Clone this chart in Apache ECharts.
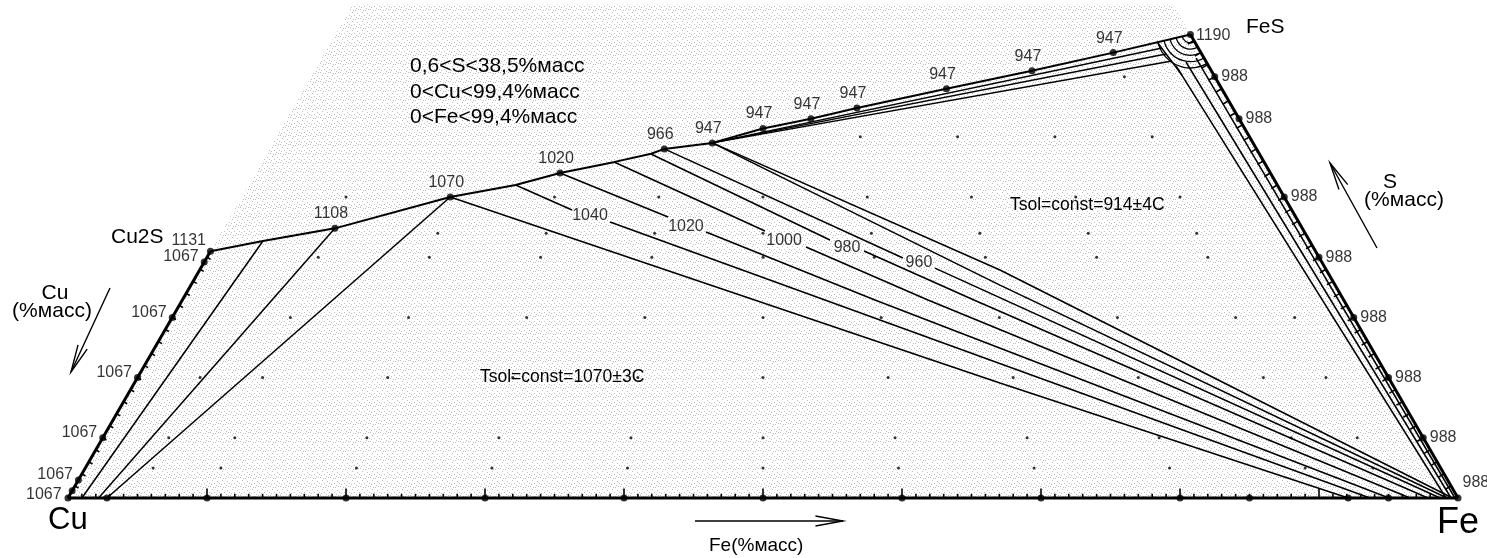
<!DOCTYPE html>
<html><head><meta charset="utf-8">
<script src="https://cdn.jsdelivr.net/npm/echarts@6/dist/echarts.min.js"></script>
<style>html,body{margin:0;padding:0;background:#fff}#c{width:1487px;height:558px}</style>
</head><body><div id="c"></div>
<script>
// ---------- DATA (mass %, points given as [Fe, S]) ----------
const cornerCu = [0, 0];
const cornerFe = [100, 0];
const cornerCu2S = [0, 20.5];
const cornerFeS = [61.5, 38.5];
const stippleArea = [[0, 0], [100, 0], [59, 41], [0, 41]];

// upper boundary Cu2S -> FeS
const topLine = [[0, 20.5], [3.35, 21.35], [8.0, 22.4], [15.0, 25.0], [19.2, 26.0], [21.9, 27.0],
  [25.3, 27.9], [27.65, 28.6], [28.4, 29.0], [31.6, 29.5], [34.65, 30.7], [37.7, 31.5],
  [40.56, 32.4], [46.2, 34.0], [51.6, 35.5], [56.7, 37.0], [61.5, 38.5]];

// labelled experimental points on the upper boundary
const topPts = [[0, 20.5], [8.0, 22.4], [15.0, 25.0], [21.9, 27.0], [28.4, 29.0], [31.6, 29.5],
  [34.65, 30.7], [37.7, 31.5], [40.56, 32.4], [46.2, 34.0], [51.6, 35.5], [56.7, 37.0], [61.5, 38.5]];
const topTemps = ['1131', '1108', '1070', '1020', '966', '947', '947', '947', '947', '947', '947', '947', '1190'];

// points on Cu–S edge (Fe = 0)
const leftS = [19.6, 15, 10, 5, 1.5, 0.6];
const leftTemps = ['1067', '1067', '1067', '1067', '1067', '1067'];
// points on Fe–S edge (Cu = 0)
const rightS = [35, 31.5, 25, 20, 15, 10, 5, 0];
const rightTemps = ['988', '988', '988', '988', '988', '988', '988', '988'];
// points on Cu–Fe edge (S = 0)
const bottomFe = [0, 2.8, 10, 20, 30, 40, 50, 60, 70, 80, 85, 92.1, 95];

// grid of sample compositions: S level and Fe/(Fe+Cu) ratios
const sampleS = [2.5, 5, 10, 15, 20, 22, 25, 30, 35];
const sampleRatios = [
  [0.05, 0.1, 0.2, 0.3, 0.4, 0.5, 0.6, 0.7, 0.8, 0.9, 0.95],
  [0.05, 0.1, 0.2, 0.3, 0.4, 0.5, 0.6, 0.7, 0.8, 0.9, 0.95],
  [0.05, 0.1, 0.2, 0.3, 0.4, 0.5, 0.6, 0.7, 0.8, 0.9, 0.95],
  [0.1, 0.2, 0.3, 0.4, 0.5, 0.6, 0.7, 0.8, 0.9, 0.95],
  [0.1, 0.2, 0.3, 0.4, 0.5, 0.6, 0.7, 0.8, 0.9],
  [0.2, 0.3, 0.4, 0.5, 0.6, 0.7, 0.8, 0.9],
  [0.1, 0.3, 0.4, 0.5, 0.6, 0.7, 0.8, 0.9],
  [0.6, 0.7, 0.8, 0.9],
  [0.9]
];

// tie lines / isotherms
const tieCu1 = [[3.35, 21.35], [1.0, 0]];
const tieCu2 = [[8.0, 22.4], [2.2, 0]];
const tieCu3 = [[15.0, 25.0], [2.8, 0]];
const iso1070 = [[15.0, 25.0], [62.27, 9.55], [92.1, 0]];
const iso1040a = [[19.2, 26.0], [24.3, 23.92]];
const iso1040b = [[27.53, 22.93], [46.23, 16.45], [93.67, 0]];
const iso1020a = [[21.9, 27.0], [31.5, 23.34]];
const iso1020b = [[34.85, 22.1], [49.83, 16.45], [95.04, 0]];
const iso1000a = [[25.33, 27.91], [39.05, 22.18]];
const iso1000b = [[42.67, 20.85], [53.64, 16.45], [96.55, 0]];
const iso980a = [[27.65, 28.58], [44.1, 21.43]];
const iso980b = [[47.01, 20.52], [56.95, 16.45], [97.84, 0]];
const iso960a = [[28.4, 29.0], [50.1, 19.94]];
const iso960b = [[52.82, 19.1], [98.71, 0]];
const iso947a = [[31.6, 29.5], [58.2, 17.69], [99.21, 0]];
const iso947b = [[31.6, 29.5], [57.58, 18.94], [99.6, 0]];
const fan2 = [[31.6, 29.5], [60.02, 37.38]];
const fan3 = [[31.6, 29.5], [60.56, 36.88]];
const fan4 = [[31.6, 29.5], [61.27, 36.3]];
const cornerCut = [[59.41, 37.88], [62.57, 35.14]];
const feLine1 = [[61.77, 35.89], [99.14, 0]];
const feLine2 = [[62.32, 36.22], [99.5, 0]];
const feLine3 = [[62.88, 36.55], [99.78, 0]];
const arcRadii = [0.6, 1.05, 1.5, 1.95, 2.4];

// isotherm labels
const isoLabelPts = [[25.84, 23.43], [33.2, 22.51], [40.84, 21.35], [45.66, 20.77], [51.46, 19.52]];
const isoLabels = ['1040', '1020', '1000', '980', '960'];

// ticks
const bottomTicks = Array.from({length: 99}, (_, i) => i + 1);
const bottomMajor = [10, 20, 30, 40, 50, 60, 70, 80, 90];
const leftTicks = Array.from({length: 20}, (_, i) => i + 1);
const rightTicks = Array.from({length: 38}, (_, i) => i + 1);

// ---------- BUILD ----------
const SQ3 = Math.sqrt(3) / 2;
const toXY = p => [p[0] + p[1] / 2, p[1] * SQ3];
const FONT = "'Liberation Sans', Arial, Helvetica, sans-serif";

function makeStipple() {
  const c = document.createElement('canvas');
  c.width = 10; c.height = 9;
  const g = c.getContext('2d');
  g.fillStyle = '#ffffff'; g.fillRect(0, 0, 10, 9);
  g.fillStyle = '#bdbdbd';
  [[0,0],[5,1],[8,0],[2,3],[7,4],[4,6],[9,6],[1,7],[6,8],[3,1]].forEach(p => g.fillRect(p[0], p[1], 1, 1));
  return c;
}
const stipple = makeStipple();

function poly(points, width, z) {
  return {type: 'line', data: points.map(toXY), showSymbol: false, symbol: 'none', silent: true,
    lineStyle: {color: '#000', width: width}, z: z || 3, animation: false};
}

const ticks = [];
const TL = 0.3, TLM = 0.68;
bottomTicks.forEach(f => { const b = toXY([f, 0]); const L = bottomMajor.includes(f) ? TLM : TL; ticks.push([b[0], b[1], b[0], b[1] + L]); });
leftTicks.forEach(s => { const b = toXY([0, s]); ticks.push([b[0], b[1], b[0] + 0.3 * SQ3, b[1] - 0.15]); });
rightTicks.forEach(s => { const b = toXY([100 - s, s]); ticks.push([b[0], b[1], b[0] - 0.5 * SQ3, b[1] - 0.25]); });

const samples = [];
sampleS.forEach((s, i) => sampleRatios[i].forEach(r => samples.push(toXY([r * (100 - s), s]))));

const lineSet = [tieCu1, tieCu2, tieCu3, iso1070, iso1040a, iso1040b, iso1020a, iso1020b, iso1000a, iso1000b,
  iso980a, iso980b, iso960a, iso960b, iso947a, iso947b, fan2, fan3, fan4, cornerCut, feLine1, feLine2, feLine3];

const labelBase = {show: true, color: '#000', fontFamily: FONT, fontSize: 16, formatter: '{b}'};

const series = [
  {type: 'custom', silent: true, z: 1, animation: false, data: [toXY(cornerCu)],
    renderItem: (params, api) => ({type: 'polygon',
      shape: {points: stippleArea.map(p => api.coord(toXY(p)))},
      style: {fill: {image: stipple, repeat: 'repeat'}, stroke: null}})},
  poly([cornerCu, cornerFe], 3, 4),
  poly([cornerCu, cornerCu2S], 3, 4),
  poly([cornerFe, cornerFeS], 3, 4),
  poly(topLine, 2, 4),
  ...lineSet.map(l => poly(l, 1.5, 3)),
  {type: 'custom', silent: true, z: 4, animation: false, data: ticks, encode: {x: [0, 2], y: [1, 3]},
    renderItem: (params, api) => {
      const a = api.coord([api.value(0), api.value(1)]);
      const b = api.coord([api.value(2), api.value(3)]);
      return {type: 'line', shape: {x1: a[0], y1: a[1], x2: b[0], y2: b[1]}, style: {stroke: '#000', lineWidth: 1.6}};
    }},
  {type: 'custom', silent: true, z: 3, animation: false, data: arcRadii.map(r => [...toXY(cornerFeS), r]),
    encode: {x: 0, y: 1},
    renderItem: (params, api) => {
      const c = api.coord([api.value(0), api.value(1)]);
      const r = api.size([api.value(2), 0])[0];
      const pFe = api.coord(toXY(cornerFe));
      const pCu2S = api.coord(toXY(cornerCu2S));
      const a0 = Math.atan2(pFe[1] - c[1], pFe[0] - c[0]);
      const a1 = Math.atan2(pCu2S[1] - c[1], pCu2S[0] - c[0]);
      return {type: 'arc', shape: {cx: c[0], cy: c[1], r: r, startAngle: a0, endAngle: a1, clockwise: true},
        style: {stroke: '#000', fill: null, lineWidth: 1.3}};
    }},
  {type: 'scatter', silent: true, z: 5, animation: false, data: samples, symbolSize: 3, itemStyle: {color: '#000'}},
  {type: 'scatter', silent: true, z: 5, animation: false, symbolSize: 7, itemStyle: {color: '#000'},
    data: bottomFe.map(f => toXY([f, 0]))},
  {type: 'scatter', silent: true, z: 6, animation: false, symbolSize: 7, itemStyle: {color: '#000'},
    label: Object.assign({}, labelBase, {position: 'top', distance: 3, offset: [-4, 0]}),
    data: topPts.map((p, i) => {
      const d = {value: toXY(p), name: topTemps[i]};
      if (i === 0) d.label = {position: 'left', distance: 1, offset: [0, -11]};
      if (i === topPts.length - 1) d.label = {position: 'right', distance: 2, offset: [0, 1]};
      return d;
    })},
  {type: 'scatter', silent: true, z: 6, animation: false, symbolSize: 7, itemStyle: {color: '#000'},
    label: Object.assign({}, labelBase, {position: 'left', distance: 2, offset: [0, -5]}),
    data: leftS.map((s, i) => {
      const d = {value: toXY([0, s]), name: leftTemps[i]};
      if (i === leftS.length - 1) d.label = {offset: [-5, 4]};
      return d;
    })},
  {type: 'scatter', silent: true, z: 6, animation: false, symbolSize: 7, itemStyle: {color: '#000'},
    label: Object.assign({}, labelBase, {position: 'right', distance: 3, offset: [0, 0]}),
    data: rightS.map((s, i) => {
      const d = {value: toXY([100 - s, s]), name: rightTemps[i]};
      if (s === 0) d.label = {distance: 1, offset: [0, -15]};
      return d;
    })},
  {type: 'scatter', silent: true, z: 6, animation: false, symbolSize: 0,
    label: Object.assign({}, labelBase, {position: 'inside'}),
    data: isoLabelPts.map((p, i) => ({value: toXY(p), name: isoLabels[i]}))}
];

function txt(t, x, y, size, align) {
  return {type: 'text', x: x, y: y, silent: true, z: 10,
    style: {text: t, fill: '#000', font: size + 'px ' + FONT, fontSize: size, fontFamily: FONT,
      textAlign: align || 'left', align: align || 'left', textVerticalAlign: 'middle', verticalAlign: 'middle'}};
}
function arrow(x1, y1, x2, y2, len, ang) {
  const d = Math.atan2(y2 - y1, x2 - x1);
  const h1 = [x2 - len * Math.cos(d - ang), y2 - len * Math.sin(d - ang)];
  const h2 = [x2 - len * Math.cos(d + ang), y2 - len * Math.sin(d + ang)];
  return [
    {type: 'line', silent: true, z: 10, shape: {x1: x1, y1: y1, x2: x2, y2: y2}, style: {stroke: '#000', lineWidth: 1.4}},
    {type: 'polyline', silent: true, z: 10, shape: {points: [h1, [x2, y2], h2]}, style: {stroke: '#000', lineWidth: 1.4, fill: null}}
  ];
}

const graphics = [
  txt('0,6<S<38,5%масс', 410, 66, 21),
  txt('0<Cu<99,4%масс', 410, 92, 21),
  txt('0<Fe<99,4%масс', 410, 117, 21),
  txt('Cu2S', 111, 237, 21),
  txt('FeS', 1246, 27, 21),
  txt('Cu', 48, 520, 31),
  txt('Fe', 1437, 523, 36),
  txt('Fe(%масс)', 709, 546, 19),
  txt('Cu', 55, 293, 21, 'center'),
  txt('(%масс)', 52, 311, 21, 'center'),
  txt('S', 1390, 182, 21, 'center'),
  txt('(%масс)', 1404, 200, 21, 'center'),
  txt('Tsol=const=1070±3C', 480, 377, 17.5),
  txt('Tsol=const=914±4C', 1010, 205, 17.5),
  ...arrow(695, 521, 843, 521, 28, 0.18),
  ...arrow(110, 288, 71, 372, 28, 0.18),
  ...arrow(1377, 248, 1330, 163, 28, 0.18)
];

const chart = echarts.init(document.getElementById('c'));
chart.setOption({
  animation: false,
  backgroundColor: '#ffffff',
  grid: {left: 0, right: 0, top: 0, bottom: 0},
  xAxis: {type: 'value', min: -68 / 13.9, max: 100 + 29 / 13.9, show: false},
  yAxis: {type: 'value', min: -60 / 13.9, max: 498 / 13.9, show: false},
  series: series,
  graphic: graphics
});
</script>
</body></html>
